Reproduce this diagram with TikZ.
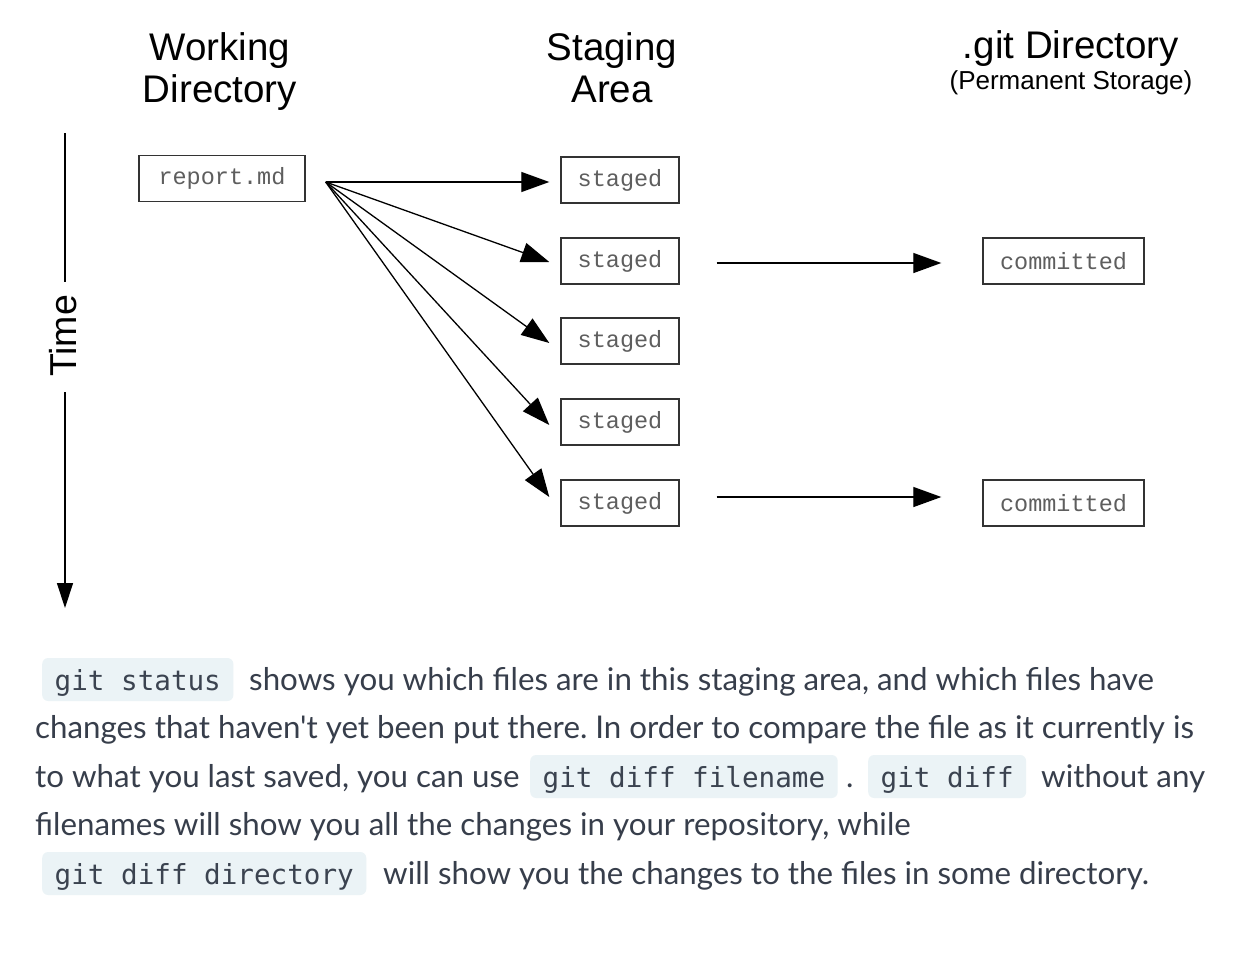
\documentclass[tikz,border=0pt]{standalone}
\usepackage{fontspec}
\setmainfont{Liberation Sans}
\newfontfamily\arialf{Liberation Sans}
\newfontfamily\courf{Liberation Mono}
\newfontfamily\codef{DejaVu Sans Mono}
\newfontfamily\latof{Lato}
\usetikzlibrary{arrows.meta}
\frenchspacing
\definecolor{boxline}{HTML}{333333}
\definecolor{boxtext}{HTML}{5E5E5E}
\definecolor{bodytext}{HTML}{373E4B}
\definecolor{codebg}{HTML}{EBF3F6}
\definecolor{codetext}{HTML}{3B4350}
\tikzset{
  filebox/.style={draw=boxline, line width=1.4pt, inner sep=0pt, text=boxtext,
    font=\courf\fontsize{23.5}{26}\selectfont, minimum height=46pt},
  head/.style={anchor=base, font=\arialf\fontsize{38.5}{42}\selectfont, inner sep=0pt},
  subhead/.style={anchor=base, font=\arialf\fontsize{26}{30}\selectfont, inner sep=0pt},
  arr/.style={line width=1.3pt, -{Triangle[length=28pt,width=20pt]}},
  body/.style={anchor=base west, inner sep=0pt, text=bodytext, font=\latof\fontsize{31.3}{36}\selectfont\frenchspacing},
  code/.style={anchor=base west, inner xsep=12.5pt, inner ysep=0pt, text height=32pt, text depth=11pt,
    fill=codebg, rounded corners=6pt, text=codetext, font=\codef\fontsize{27.6}{32}\selectfont}
}
\begin{document}
\begin{tikzpicture}[x=1pt,y=-1pt]
\useasboundingbox[fill=white] (0,0) rectangle (1246,962);
% headers
\node[head] (h1a) at (220,60) {Working};
\node[head] (h1b) at (220,102) {Directory};
\node[head] (h2a) at (612,60) {Staging};
\node[head] (h2b) at (612,102) {Area};
\node[head] (h3a) at (1071,58) {.git Directory};
\node[subhead] (h3b) at (1071,89) {(Permanent Storage)};
% time axis
\node[rotate=90, font=\arialf\fontsize{37.5}{40}\selectfont, inner sep=0pt] (time) at (63,336) {Time};
\coordinate (ttop) at (65,133);
\coordinate (tbot) at (65,608);
\draw[line width=1.3pt] (ttop) -- (ttop |- 0,282);
\draw[line width=1.3pt, -{Triangle[length=25pt,width=16pt]}] (tbot |- 0,392) -- (tbot);
% boxes
\node[filebox, minimum width=166pt] (rep) at (222,178.5) {report.md};
\node[filebox, minimum width=118pt] (s1) at (620,180) {staged};
\node[filebox, minimum width=118pt] (s2) at (620,261) {staged};
\node[filebox, minimum width=118pt] (s3) at (620,341) {staged};
\node[filebox, minimum width=118pt] (s4) at (620,422) {staged};
\node[filebox, minimum width=118pt] (s5) at (620,503) {staged};
\node[filebox, minimum width=161pt] (c1) at (1063.5,261) {committed};
\node[filebox, minimum width=161pt] (c2) at (1063.5,503) {committed};
% arrows
\coordinate (src) at ([xshift=20pt]rep.east |- 0,182);
\coordinate (t1) at ([xshift=-11pt]s1.west |- 0,182);
\coordinate (t2) at ([xshift=-11pt]s2.west |- 0,262);
\coordinate (t3) at ([xshift=-11pt]s3.west |- 0,343);
\coordinate (t4) at ([xshift=-11pt]s4.west |- 0,425);
\coordinate (t5) at ([xshift=-11pt]s5.west |- 0,497);
\foreach \t in {t1,t2,t3,t4,t5} \draw[arr] (src) -- (\t);
\draw[arr, shorten <=37pt, shorten >=41pt] (s2.east |- 0,263) -- (c1.west |- 0,263);
\draw[arr, shorten <=37pt, shorten >=41pt] (s5.east |- 0,497) -- (c2.west |- 0,497);
% paragraph
\node[code] (k1) at (42,690) {git status};
\node[body] (l1) at (249,690) {shows you which files are in this staging area, and which files have};
\node[body] (l2) at (35,738.5) {changes that haven't yet been put there. In order to compare the file as it currently is};
\node[body] (l3a) at (35,787) {to what you last saved, you can use};
\node[code] (k2) at (530,787) {git diff filename};
\node[body] (l3b) at (846,787) {.};
\node[code] (k3) at (868,787) {git diff};
\node[body] (l3c) at (1041,787) {without any};
\node[body] (l4) at (35,835.5) {filenames will show you all the changes in your repository, while};
\node[code] (k4) at (42,884) {git diff directory};
\node[body] (l5) at (383,884) {will show you the changes to the files in some directory.};
\end{tikzpicture}
\end{document}
